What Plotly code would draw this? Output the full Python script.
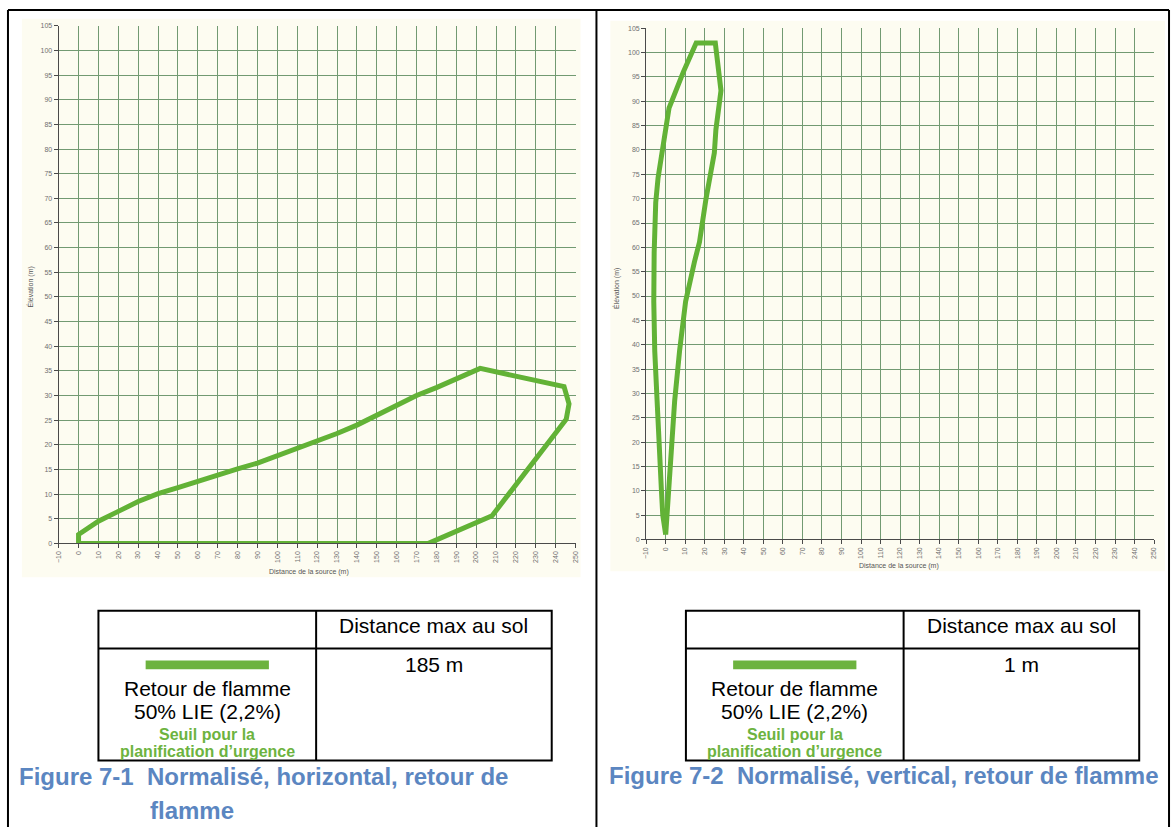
import plotly.graph_objects as go

W, H = 1176, 830

# Flammable-cloud contour, horizontal release (distance from source, elevation), metres
horiz_dist = [0, 176, 208, 245.3, 246.7, 244.2, 202, 190, 180, 170, 160, 150, 140, 130,
              120, 110, 100, 90, 80, 70, 60, 50, 40, 30, 20, 10, 0, 0]
horiz_elev = [0, 0, 5.6, 25.2, 28.3, 31.8, 35.5, 33.3, 31.6, 30, 28, 26.1, 24, 22.3,
              20.8, 19.2, 17.8, 16.3, 15.1, 13.8, 12.4, 11.3, 10.1, 8.5, 6.5, 4.5, 1.8, 0]

# Flammable-cloud contour, vertical release
vert_dist = [0, -1.5, -2.2, -3.4, -4.4, -5.6, -6.1, -5.9, -5.1, -3.9, -3.0, -1.4, 1.7,
             9.0, 15.6, 25.4, 28.3, 25.7, 24.9, 20.6, 17.3, 14.7, 10.2, 7.1, 4.6, 2.9, 1.2, 0.3, 0]
vert_elev = [1, 5, 10.2, 18.3, 28.5, 38.7, 48.9, 59, 69.2, 74.3, 76.7, 79.4, 88.6,
             96, 102, 102, 92.2, 84.2, 79.4, 69.9, 61.1, 57, 48.9, 38.7, 28.5, 18.3, 8.1, 2, 1]

# Summary tables under each chart
table_header = "Distance max au sol"
scenario_lines = ["Retour de flamme", "50% LIE (2,2%)"]
threshold_lines = ["Seuil pour la", "planification d’urgence"]
max_ground_distance = ["185 m", "1 m"]
captions = [["Figure 7-1  Normalisé, horizontal, retour de", "flamme"],
            ["Figure 7-2  Normalisé, vertical, retour de flamme"]]

X_RANGE = [-10, 250]
Y_RANGE = [0, 105]

LINE_GREEN = "#62B236"
BAR_GREEN = "#6DB33F"
CAPTION_BLUE = "#5B86C1"
CREAM = "#FDFCF1"
GRID = "#729A72"
FONT = "Liberation Sans"


def fx(p):
    return p / W


def fy(p):
    return 1 - p / H


fig = go.Figure()
fig.add_trace(go.Scatter(x=horiz_dist, y=horiz_elev, mode="lines",
                         line=dict(color=LINE_GREEN, width=5), xaxis="x", yaxis="y",
                         hoverinfo="skip"))
fig.add_trace(go.Scatter(x=vert_dist, y=vert_elev, mode="lines",
                         line=dict(color=LINE_GREEN, width=5), xaxis="x2", yaxis="y2",
                         hoverinfo="skip"))

# plot areas in pixels: (left, right, bottom, top)
panels = [(55, 575, 544, 22), (646, 1157, 540, 24.5)]

axis_common = dict(showgrid=True, gridcolor=GRID, gridwidth=1, zeroline=False,
                   showline=True, linecolor="#4a4a4a", linewidth=1,
                   ticks="outside", ticklen=4, tickcolor="#4a4a4a",
                   tickfont=dict(family=FONT, size=7, color="#707070"))

layout_axes = {}
for i, (l, r, b, t) in enumerate(panels):
    sfx = "" if i == 0 else "2"
    layout_axes["xaxis" + sfx] = dict(axis_common, range=X_RANGE, dtick=10, tick0=0,
                                      tickangle=-90, domain=[fx(l), fx(r)],
                                      anchor="y" + sfx)
    layout_axes["yaxis" + sfx] = dict(axis_common, range=Y_RANGE, dtick=5, tick0=0,
                                      domain=[fy(b), fy(t)], anchor="x" + sfx)

shapes = []
annotations = []

# cream chart backgrounds
for (x0, x1, y0, y1) in [(18, 580, 15, 578), (610, 1168, 17, 572)]:
    shapes.append(dict(type="rect", xref="paper", yref="paper", layer="below",
                       x0=fx(x0), x1=fx(x1), y0=fy(y1), y1=fy(y0),
                       fillcolor=CREAM, line=dict(width=0)))

# page frame
frame = dict(type="line", xref="paper", yref="paper", line=dict(color="black", width=2))
shapes.append(dict(frame, x0=fx(4), x1=fx(1172), y0=fy(6), y1=fy(6)))
for xp in (4, 596, 1172):
    shapes.append(dict(frame, x0=fx(xp), x1=fx(xp), y0=fy(6), y1=fy(830)))

# axis titles
for (cx_t, cy_t, cx_y, cy_y) in [(307, 573, 27, 285), (900, 567, 616, 287)]:
    annotations.append(dict(xref="paper", yref="paper", x=fx(cx_t), y=fy(cy_t),
                            text="Distance de la source (m)", showarrow=False,
                            font=dict(family=FONT, size=7, color="#555555"),
                            xanchor="center", yanchor="middle"))
    annotations.append(dict(xref="paper", yref="paper", x=fx(cx_y), y=fy(cy_y),
                            text="Élévation (m)", showarrow=False, textangle=-90,
                            font=dict(family=FONT, size=7, color="#555555"),
                            xanchor="center", yanchor="middle"))

# tables: (left, divider, right)
tables = [(95, 314, 551), (686, 905, 1142)]
T_TOP, T_MID, T_BOT = 612, 650, 763
tline = dict(color="black", width=2)
for i, (l, m, r) in enumerate(tables):
    shapes.append(dict(type="rect", xref="paper", yref="paper",
                       x0=fx(l), x1=fx(r), y0=fy(T_BOT), y1=fy(T_TOP), line=tline))
    shapes.append(dict(type="line", xref="paper", yref="paper",
                       x0=fx(m), x1=fx(m), y0=fy(T_BOT), y1=fy(T_TOP), line=tline))
    shapes.append(dict(type="line", xref="paper", yref="paper",
                       x0=fx(l), x1=fx(r), y0=fy(T_MID), y1=fy(T_MID), line=tline))
    lc = (l + m) / 2
    rc = (m + r) / 2
    # legend swatch
    shapes.append(dict(type="rect", xref="paper", yref="paper",
                       x0=fx(lc - 62), x1=fx(lc + 62), y0=fy(671), y1=fy(662),
                       fillcolor=BAR_GREEN, line=dict(width=0)))
    annotations.append(dict(xref="paper", yref="paper", x=fx(rc), y=fy(627),
                            text=table_header, showarrow=False,
                            font=dict(family=FONT, size=21, color="black"),
                            xanchor="center", yanchor="middle"))
    annotations.append(dict(xref="paper", yref="paper", x=fx(rc), y=fy(666),
                            text=max_ground_distance[i], showarrow=False,
                            font=dict(family=FONT, size=21, color="black"),
                            xanchor="center", yanchor="middle"))
    for txt, yy in zip(scenario_lines, (690, 714)):
        annotations.append(dict(xref="paper", yref="paper", x=fx(lc), y=fy(yy),
                                text=txt, showarrow=False,
                                font=dict(family=FONT, size=21, color="black"),
                                xanchor="center", yanchor="middle"))
    for txt, yy in zip(threshold_lines, (737, 754)):
        annotations.append(dict(xref="paper", yref="paper", x=fx(lc), y=fy(yy),
                                text="<b>" + txt + "</b>", showarrow=False,
                                font=dict(family=FONT, size=16, color=BAR_GREEN),
                                xanchor="center", yanchor="middle"))

# figure captions
cap_pos = [[(13, 779), (145, 813)], [(607, 778)]]
for lines, poss in zip(captions, cap_pos):
    for txt, (xx, yy) in zip(lines, poss):
        annotations.append(dict(xref="paper", yref="paper", x=fx(xx), y=fy(yy),
                                text="<b>" + txt + "</b>", showarrow=False,
                                font=dict(family=FONT, size=24, color=CAPTION_BLUE),
                                xanchor="left", yanchor="middle"))

fig.update_layout(width=W, height=H, margin=dict(l=0, r=0, t=0, b=0),
                  paper_bgcolor="white", plot_bgcolor="rgba(0,0,0,0)",
                  showlegend=False, shapes=shapes, annotations=annotations,
                  **layout_axes)

fig.write_html("out.html")
